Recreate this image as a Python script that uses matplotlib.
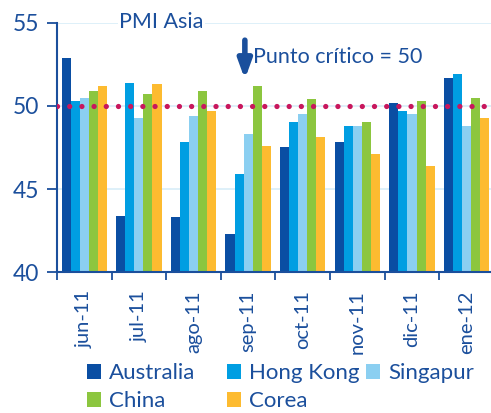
import numpy as np
import matplotlib
matplotlib.use('Agg')
import matplotlib.pyplot as plt

plt.rcParams['font.family'] = ['Lato', 'DejaVu Sans']

# PMI readings by month
months = ['jun-11', 'jul-11', 'ago-11', 'sep-11', 'oct-11', 'nov-11', 'dic-11', 'ene-12']
australia = [52.9, 43.4, 43.3, 42.3, 47.5, 47.8, 50.2, 51.7]
hong_kong = [50.3, 51.4, 47.8, 45.9, 49.0, 48.8, 49.7, 51.9]
singapur = [50.5, 49.3, 49.4, 48.3, 49.5, 48.8, 49.5, 48.8]
china = [50.9, 50.7, 50.9, 51.2, 50.4, 49.0, 50.3, 50.5]
corea = [51.2, 51.3, 49.7, 47.6, 48.1, 47.1, 46.4, 49.3]
critical = 50

series = [('Australia', australia, '#0a4ea3'),
          ('Hong Kong', hong_kong, '#009ee2'),
          ('Singapur', singapur, '#8bcff1'),
          ('China', china, '#8cc63f'),
          ('Corea', corea, '#fdbb30')]

txt = '#1b4f9c'

fig = plt.figure(figsize=(4.91, 4.13), dpi=100)
ax = fig.add_axes([0.116, 0.341, 0.89, 0.604])

x = np.arange(len(months))
w = 0.166
bars = {}
for i, (name, vals, col) in enumerate(series):
    bars[name] = ax.bar(x + (i - 2) * w, np.array(vals) - 40, bottom=40, width=w,
                        color=col, label=name, zorder=2)

ax.set_xlim(-0.5, len(months) - 0.5)
ax.set_ylim(40, 55)
ax.set_yticks([40, 45, 50, 55])
ax.grid(axis='y', color='#d8edf8', lw=1.2, zorder=0)

# threshold dots
ax.axhline(critical, color='#c8175d', lw=3.8, linestyle=(0, (0.01, 2.3)),
           dash_capstyle='round', zorder=3)

ax.set_xticks(x)
ax.set_xticklabels(months, rotation=90)
ax.set_xticks(np.arange(len(months) + 1) - 0.5, minor=True)
ax.tick_params(axis='x', which='major', length=0, pad=13, labelsize=14.5, colors=txt)
ax.tick_params(axis='x', which='minor', length=6, width=1.3, color=txt, direction='out')
ax.tick_params(axis='y', length=7, width=1.3, color=txt, labelsize=16.5, labelcolor=txt, pad=6)

for s in ['top', 'right']:
    ax.spines[s].set_visible(False)
for s in ['left', 'bottom']:
    ax.spines[s].set_color(txt)
    ax.spines[s].set_linewidth(1.5)

ax.text(1.41, 55.05, 'PMI Asia', color=txt, fontsize=15.5, ha='center', va='center',
        bbox=dict(facecolor='white', edgecolor='none', pad=1), zorder=4)

ax.annotate('', xy=(2.94, 51.6), xytext=(2.94, 53.95),
            arrowprops=dict(arrowstyle='-|>,head_width=0.4,head_length=1.1',
                            color='#1a4f9c', lw=4, shrinkA=0, shrinkB=0), zorder=4)
ax.text(3.08, 52.95, 'Punto crítico = 50', color=txt, fontsize=15.5, ha='left', va='center')

# one legend per column so the columns sit at fixed positions
columns = [(['Australia', 'China'], 0.177), (['Hong Kong', 'Corea'], 0.462),
           (['Singapur'], 0.745)]
for names, left in columns:
    fig.legend([bars[n] for n in names], names, loc='upper left', bbox_to_anchor=(left, 0.12),
               frameon=False, fontsize=16, labelcolor=txt, handlelength=0.65,
               handleheight=0.65, handletextpad=0.35, labelspacing=0.36,
               borderpad=0, borderaxespad=0)

fig.savefig('out.png', dpi=100)
